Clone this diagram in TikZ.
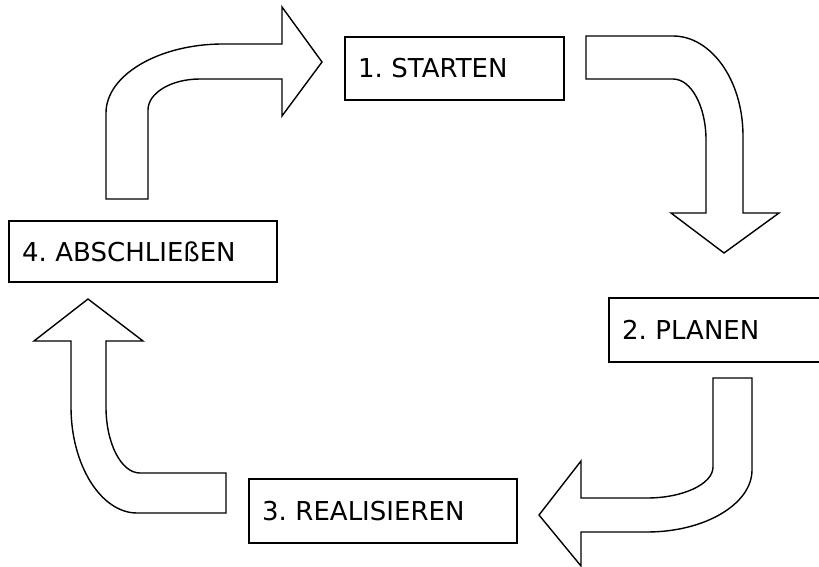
\documentclass[tikz,border=0pt]{standalone}
\usepackage{fontspec}
\setmainfont{DejaVu Sans}
\frenchspacing
\begin{document}
\begin{tikzpicture}[x=1pt,y=-1pt,
  box/.style={draw=black, line width=1.3pt, fill=white, align=left, inner xsep=13pt, inner ysep=0pt,
    font=\fontsize{26}{31}\selectfont},
  blockarrow/.style={draw=black, line width=1.4pt, fill=white, line join=miter}]
\useasboundingbox (0,0) rectangle (819,567);
\clip (0,0) rectangle (819,567);
% boxes
\node[box, text width=193pt, minimum height=63pt] (s1) at (454.5,68.5) {1. STARTEN};
\node[box, text width=187pt, minimum height=64pt] (s2) at (715.5,330) {2. PLANEN};
\node[box, text width=242pt, minimum height=64pt] (s3) at (383,511) {3. REALISIEREN};
\node[box, text width=242pt, minimum height=61pt] (s4) at (143,251.5) {4. ABSCHLIEßEN};
% arrow 4 -> 1
\draw[blockarrow] (106,199) -- (106,113)
  .. controls (106,75) and (159,44) .. (223,44) -- (282,44) -- (282,7) -- (322,62)
  -- (282,116) -- (282,79) -- (200,79)
  .. controls (171,79) and (148,93) .. (148,110) -- (148,199) -- cycle;
% arrow 1 -> 2
\draw[blockarrow] (586,36) -- (673,36)
  .. controls (711,36) and (743,80) .. (743,136) -- (743,213) -- (779,213) -- (724,253)
  -- (671,213) -- (706,213) -- (706,140)
  .. controls (706,106) and (691,79) .. (673,79) -- (586,79) -- cycle;
% arrow 2 -> 3
\draw[blockarrow] (713,378) -- (713,467)
  .. controls (713,484) and (683,498) .. (647,498) -- (581,498) -- (581,461) -- (539,515)
  -- (581,566) -- (581,532) -- (647,532)
  .. controls (705,532) and (752,504) .. (752,470) -- (752,378) -- cycle;
% arrow 3 -> 4
\draw[blockarrow] (71,341) -- (34,341) -- (88,299) -- (143,341) -- (106,341) -- (106,407)
  .. controls (106,443) and (121,473) .. (140,473) -- (226,473) -- (226,513) -- (137,513)
  .. controls (101,513) and (71,465) .. (71,407) -- cycle;
\end{tikzpicture}
\end{document}
